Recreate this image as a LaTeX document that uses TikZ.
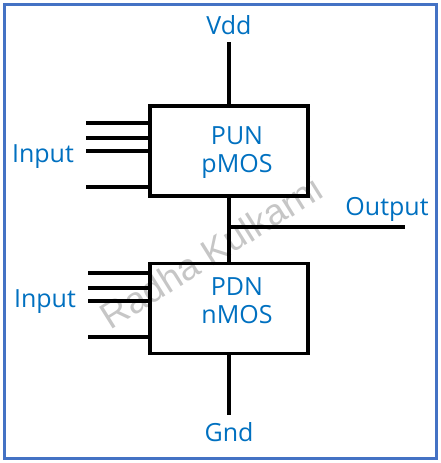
\documentclass[tikz,border=0pt]{standalone}
\usepackage{fontspec}
\setmainfont{Open Sans}
\newfontfamily\markfont{Liberation Sans}
\usetikzlibrary{positioning}
\definecolor{labelblue}{HTML}{0070C0}
\definecolor{frameblue}{HTML}{4472C4}
\tikzset{
  netbox/.style={draw, line width=3.2pt, minimum width=158pt,
    minimum height=90pt, inner sep=0pt},
  wire/.style={line width=3.4pt},
  tag/.style={text=labelblue, font=\fontsize{25}{28}\selectfont,
    align=center, inner sep=7pt},
  wmark/.style={text=gray!45, font=\markfont\fontsize{37}{40}\selectfont},
  frame/.style={draw=frameblue, line width=3pt}
}
\begin{document}
\begin{tikzpicture}[x=1pt, y=-1pt]
  \useasboundingbox (0,0) rectangle (441,463);
  \draw[frame] (4.7,4.7) rectangle (436,458);
  % watermark
  \node[wmark, rotate=32] (wm) at (211,252) {Radha Kulkarni};
  % networks
  \node[netbox] (pun) at (229,151) {};
  \node[netbox, below=64pt of pun] (pdn) {};
  \node[tag, anchor=base] (puntext) at (237,172) {PUN\\pMOS};
  \node[tag, anchor=base] (pdntext) at (237,323) {PDN\\nMOS};
  % rails
  \node[tag, anchor=south] (vdd) at (229,42) {Vdd};
  \node[tag, anchor=north] (gnd) at (229,415) {Gnd};
  \draw[wire] (vdd.south) -- (pun.north);
  \draw[wire] (pdn.south) -- (gnd.north);
  \draw[wire] (pun.south) -- (pdn.north);
  % output
  \coordinate (tap) at (229,227);
  \coordinate (outend) at (405,227);
  \draw[wire] (tap) -- (outend);
  \node[tag, anchor=base] (out) at (387,215) {Output};
  % inputs
  \foreach \y in {123,138,151,187}
    \draw[wire] (86,\y) coordinate (pin\y) -- (pin\y -| pun.west);
  \foreach \y in {273,288,301,337}
    \draw[wire] (88,\y) coordinate (nin\y) -- (nin\y -| pdn.west);
  \node[tag, anchor=base] (punin) at (43,162) {Input};
  \node[tag, anchor=base] (pdnin) at (45,307) {Input};
\end{tikzpicture}
\end{document}
